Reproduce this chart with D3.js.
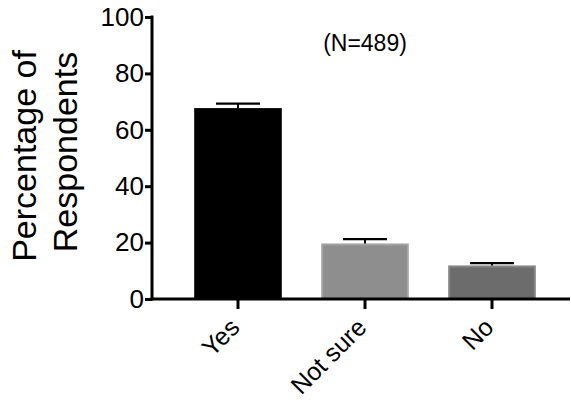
<!DOCTYPE html>
<html><head><meta charset="utf-8">
<script src="https://cdn.jsdelivr.net/npm/d3@7"></script>
<style>body{margin:0;background:#fff}svg{display:block;font-family:"Liberation Sans",Arial,sans-serif}</style>
</head><body>
<svg id="chart" width="571" height="403"></svg>
<script>
const categories = ["Yes", "Not sure", "No"];
const values = [67.7, 19.7, 11.9];
const errors = [1.6, 1.5, 0.8];
const fills = ["#000000", "#8e8e8e", "#6c6c6c"];
const strokes = ["#000000", "#a4a4a4", "#858585"];
const yTicks = [0, 20, 40, 60, 80, 100];
const annotation = "(N=489)";
const yLabelLines = ["Percentage of", "Respondents"];

const svg = d3.select("#chart");
const x0 = 152, yTop = 17, yBot = 299, xEnd = 570;
const y = d3.scaleLinear().domain([0, 100]).range([yBot, yTop]);
const x = d3.scaleBand().domain(categories).range([174.5, 555.5]).paddingInner(0.31).paddingOuter(0.155);

// bars
svg.selectAll("rect.bar").data(categories).join("rect")
  .attr("x", d => x(d) + 1).attr("width", x.bandwidth() - 2)
  .attr("y", (d, i) => y(values[i]) + 1).attr("height", (d, i) => yBot - y(values[i]) - 1)
  .attr("fill", (d, i) => fills[i]).attr("stroke", (d, i) => strokes[i]).attr("stroke-width", 2);

// error bars
const capW = 44;
categories.forEach((d, i) => {
  const cx = x(d) + x.bandwidth() / 2;
  svg.append("line").attr("x1", cx).attr("x2", cx).attr("y1", y(values[i])).attr("y2", y(values[i] + errors[i]))
    .attr("stroke", "#000").attr("stroke-width", 2);
  svg.append("line").attr("x1", cx - capW / 2).attr("x2", cx + capW / 2)
    .attr("y1", y(values[i] + errors[i])).attr("y2", y(values[i] + errors[i]))
    .attr("stroke", "#000").attr("stroke-width", 2.2);
});

// y axis
const yAxis = svg.append("g").attr("transform", `translate(${x0},0)`)
  .call(d3.axisLeft(y).tickValues(yTicks).tickSize(7).tickPadding(1).tickSizeOuter(0));
yAxis.select(".domain").attr("stroke-width", 3).attr("d", `M0,${yTop - 1.5}V${yBot + 1.5}`);
yAxis.selectAll(".tick line").attr("stroke-width", 3);
yAxis.selectAll(".tick text").attr("font-size", 26).attr("fill", "#000").attr("font-family", "Liberation Sans, Arial, sans-serif");

// x axis
const xAxis = svg.append("g").attr("transform", `translate(0,${yBot})`)
  .call(d3.axisBottom(x).tickSize(10).tickSizeOuter(0));
xAxis.select(".domain").attr("stroke-width", 3).attr("d", `M${x0 - 1.5},0H${xEnd}`);
xAxis.selectAll(".tick line").attr("stroke-width", 3);
xAxis.selectAll(".tick text").attr("font-size", 25).attr("fill", "#000")
  .attr("font-family", "Liberation Sans, Arial, sans-serif")
  .attr("text-anchor", "end").attr("dy", null).attr("y", 0)
  .attr("transform", "translate(3,30) rotate(-45)");

// annotation
svg.append("text").attr("x", 365).attr("y", 51).attr("text-anchor", "middle")
  .attr("font-size", 23).attr("fill", "#000").text(annotation);

// y label
const lab = svg.append("text").attr("transform", `translate(0,156) rotate(-90)`).attr("text-anchor", "middle")
  .attr("font-size", 34).attr("fill", "#000");
lab.append("tspan").attr("x", 0).attr("y", 36).text(yLabelLines[0]);
lab.append("tspan").attr("x", 4).attr("y", 77).text(yLabelLines[1]);
</script>
</body></html>
